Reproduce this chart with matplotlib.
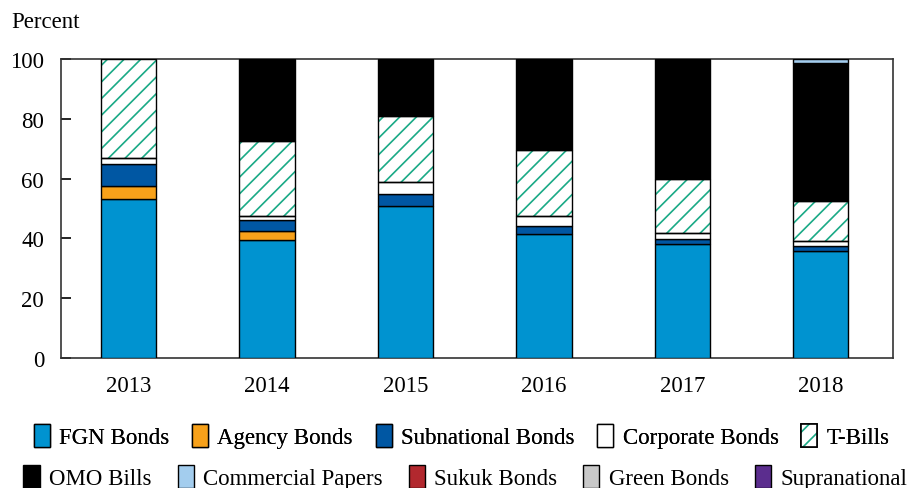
import numpy as np
from matplotlib import pyplot as plt
from matplotlib.patches import Patch
from matplotlib.legend_handler import HandlerTuple

years = ["2013", "2014", "2015", "2016", "2017", "2018"]

# shares of the market, percent
fgn_bonds = [53.2, 39.5, 50.9, 41.5, 38.0, 35.8]
agency_bonds = [4.2, 3.0, 0.0, 0.0, 0.0, 0.0]
subnational_bonds = [7.4, 3.6, 3.8, 2.5, 1.8, 1.8]
corporate_bonds = [2.1, 1.3, 4.3, 3.5, 1.9, 1.5]
t_bills = [33.1, 25.3, 22.0, 22.1, 18.2, 13.4]
omo_bills = [0.0, 27.3, 19.0, 30.4, 40.1, 46.2]
commercial_papers = [0.0, 0.0, 0.0, 0.0, 0.0, 1.3]
sukuk_bonds = [0.0, 0.0, 0.0, 0.0, 0.0, 0.0]
green_bonds = [0.0, 0.0, 0.0, 0.0, 0.0, 0.0]
supranational = [0.0, 0.0, 0.0, 0.0, 0.0, 0.0]

series_names = ["FGN Bonds", "Agency Bonds", "Subnational Bonds", "Corporate Bonds", "T-Bills",
                "OMO Bills", "Commercial Papers", "Sukuk Bonds", "Green Bonds", "Supranational"]
series_values = [fgn_bonds, agency_bonds, subnational_bonds, corporate_bonds, t_bills,
                 omo_bills, commercial_papers, sukuk_bonds, green_bonds, supranational]
series_colors = ["#0093d0", "#f7a11a", "#0057a3", "#ffffff", "#ffffff",
                 "#000000", "#a3cdee", "#b2282e", "#c8c8c8", "#5b2d8e"]
HATCH_COLOR = "#1aaa86"
FONT_SIZE = 16.5

plt.rcParams["font.family"] = ["Liberation Serif", "DejaVu Serif"]
plt.rcParams["hatch.linewidth"] = 1.2


def main():
    fig = plt.figure(figsize=(9.16, 4.89), dpi=100)
    ax = fig.add_axes([0.0665, 0.266, 0.908, 0.611])

    x = np.arange(len(years))
    width = 0.4
    bottom = np.zeros(len(years))
    handles = []
    for name, vals, color in zip(series_names, series_values, series_colors):
        vals = np.array(vals)
        if name == "T-Bills":
            # hatch takes the edge colour, so draw the hatch and the black outline separately
            ax.bar(x, vals, width, bottom=bottom, color=color, edgecolor=HATCH_COLOR,
                   hatch="//", linewidth=0, zorder=2)
            ax.bar(x, vals, width, bottom=bottom, color="none", edgecolor="black",
                   linewidth=1.0, zorder=3)
            h = (Patch(facecolor="white", edgecolor=HATCH_COLOR, hatch="//", linewidth=0),
                 Patch(facecolor="none", edgecolor="black", linewidth=1.2))
        else:
            mask = vals > 0
            ax.bar(x[mask], vals[mask], width, bottom=bottom[mask], color=color,
                   edgecolor="black", linewidth=1.0, zorder=3)
            h = Patch(facecolor=color, edgecolor="black", linewidth=1.0)
        handles.append(h)
        bottom += vals

    ax.set_xlim(-0.49, 5.52)
    ax.set_ylim(0, 100)
    ax.set_yticks(np.arange(0, 101, 20))
    ax.set_xticks(x)
    ax.set_xticklabels(years)
    ax.tick_params(axis="y", direction="in", length=7, width=1.2, labelsize=FONT_SIZE, pad=12)
    ax.tick_params(axis="x", length=0, labelsize=FONT_SIZE, pad=12)
    for spine in ax.spines.values():
        spine.set_color("#333333")
        spine.set_linewidth(1.2)

    fig.text(0.012, 0.955, "Percent", fontsize=FONT_SIZE, ha="left", va="center")

    common = dict(frameon=False, fontsize=FONT_SIZE, handlelength=0.7, handleheight=1.2,
                  handletextpad=0.4, borderaxespad=0,
                  handler_map={tuple: HandlerTuple(ndivide=1, pad=0)})
    leg1 = fig.legend(handles[:5], series_names[:5], ncol=5, loc="center",
                      bbox_to_anchor=(0.504, 0.106), columnspacing=1.0, **common)
    fig.add_artist(leg1)
    fig.legend(handles[5:], series_names[5:], ncol=5, loc="center",
               bbox_to_anchor=(0.508, 0.022), columnspacing=1.15, **common)

    fig.savefig("out.png", dpi=100)


if __name__ == "__main__":
    main()
